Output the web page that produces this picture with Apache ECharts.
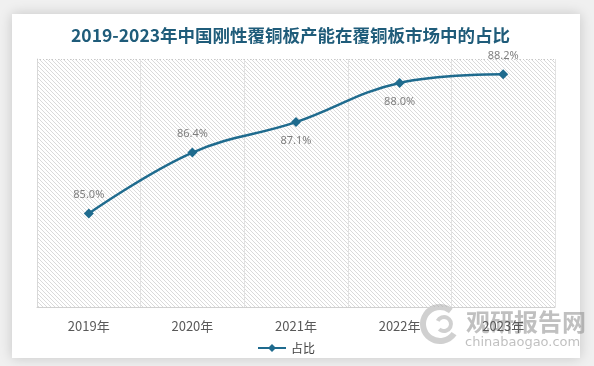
<!DOCTYPE html>
<html>
<head>
<meta charset="utf-8">
<script src="https://cdn.jsdelivr.net/npm/echarts@6/dist/echarts.min.js"></script>
<style>
html,body{margin:0;padding:0;background:#f0f0f0;}
#c{width:594px;height:366px;}
</style>
</head>
<body>
<div id="c"></div>
<script>
const categories = ['2019年', '2020年', '2021年', '2022年', '2023年'];
const shareValues = [85.0, 86.4, 87.1, 88.0, 88.2];
const labelPositions = ['top', 'top', 'bottom', 'bottom', 'top'];
const seriesName = '占比';
const titleText = '2019-2023年中国刚性覆铜板产能在覆铜板市场中的占比';

// hatch pattern
const pc = document.createElement('canvas');
pc.width = 4; pc.height = 4;
const px = pc.getContext('2d');
px.fillStyle = '#ffffff';
px.fillRect(0, 0, 4, 4);
px.fillStyle = '#dadada';
for (let i = 0; i < 4; i++) px.fillRect(i, i, 1, 1);

const chart = echarts.init(document.getElementById('c'), null, {renderer: 'canvas'});
chart.setOption({
  backgroundColor: '#f0f0f0',
  animation: false,
  title: {
    text: titleText,
    left: 66,
    top: 22,
    textStyle: {fontSize: 17.5, fontWeight: 'bold', color: '#1f5c7a', fontFamily: 'Noto Sans CJK SC'}
  },
  graphic: [
    {type: 'rect', z: -10, shape: {x: 12, y: 14, width: 568, height: 344},
     style: {fill: '#ffffff', shadowBlur: 12, shadowColor: 'rgba(0,0,0,0.18)'}},
    {type: 'rect', z: -5, shape: {x: 37, y: 59, width: 518, height: 248},
     style: {fill: {image: pc, repeat: 'repeat'}}},
    {type: 'line', z: 1, shape: {x1: 37, y1: 59.5, x2: 555, y2: 59.5},
     style: {stroke: '#c8c8c8', lineWidth: 1, lineDash: [1, 2]}},
    {type: 'group', z: 100, children: [
      {type: 'arc', shape: {cx: 440, cy: 324, r: 17, startAngle: 0.6, endAngle: 5.4},
       style: {stroke: 'rgba(170,170,170,0.55)', lineWidth: 6, fill: null}},
      {type: 'arc', shape: {cx: 444, cy: 324, r: 7, startAngle: 3.6, endAngle: 8.6},
       style: {stroke: 'rgba(170,170,170,0.55)', lineWidth: 4, fill: null}},
      {type: 'text', style: {x: 466, y: 310, text: '观研报告网', fontSize: 24, fontWeight: 'bold',
        fill: 'rgba(140,140,140,0.55)', fontFamily: 'Noto Sans CJK SC'}},
      {type: 'text', style: {x: 465, y: 336, text: 'chinabaogao.com', fontSize: 13,
        fill: 'rgba(140,140,140,0.55)', fontFamily: 'DejaVu Sans'}}
    ]}
  ],
  legend: {
    data: [seriesName],
    left: 252,
    top: 337,
    itemWidth: 28,
    itemHeight: 10,
    itemGap: 4,
    textStyle: {color: '#404040', fontSize: 12, fontFamily: 'Noto Sans CJK SC'}
  },
  grid: {left: 37, right: 39, top: 59, bottom: 59, containLabel: false},
  xAxis: {
    type: 'category',
    data: categories,
    boundaryGap: true,
    axisLine: {show: true, lineStyle: {color: '#d0d0d0', width: 1}},
    axisTick: {show: false},
    axisLabel: {color: '#595959', fontSize: 13, margin: 13, fontFamily: 'Noto Sans CJK SC'},
    splitLine: {show: true, interval: 0, lineStyle: {color: '#e2e2e2', width: 1}}
  },
  yAxis: {
    type: 'value',
    min: 82.85,
    max: 88.55,
    axisLine: {show: true, lineStyle: {color: '#d8d8d8'}},
    axisTick: {show: false},
    axisLabel: {show: false},
    splitLine: {show: false}
  },
  series: [{
    name: seriesName,
    type: 'line',
    data: shareValues.map((v, i) => ({value: v, label: {position: labelPositions[i]}})),
    smooth: 0.4,
    symbol: 'diamond',
    symbolSize: 10,
    lineStyle: {color: '#1f6b8e', width: 2.5},
    itemStyle: {color: '#1f6b8e'},
    label: {
      show: true,
      distance: 8,
      color: '#7f7f7f',
      fontSize: 11,
      fontFamily: 'Noto Sans',
      formatter: p => p.value.toFixed(1) + '%'
    }
  }]
});
</script>
</body>
</html>
